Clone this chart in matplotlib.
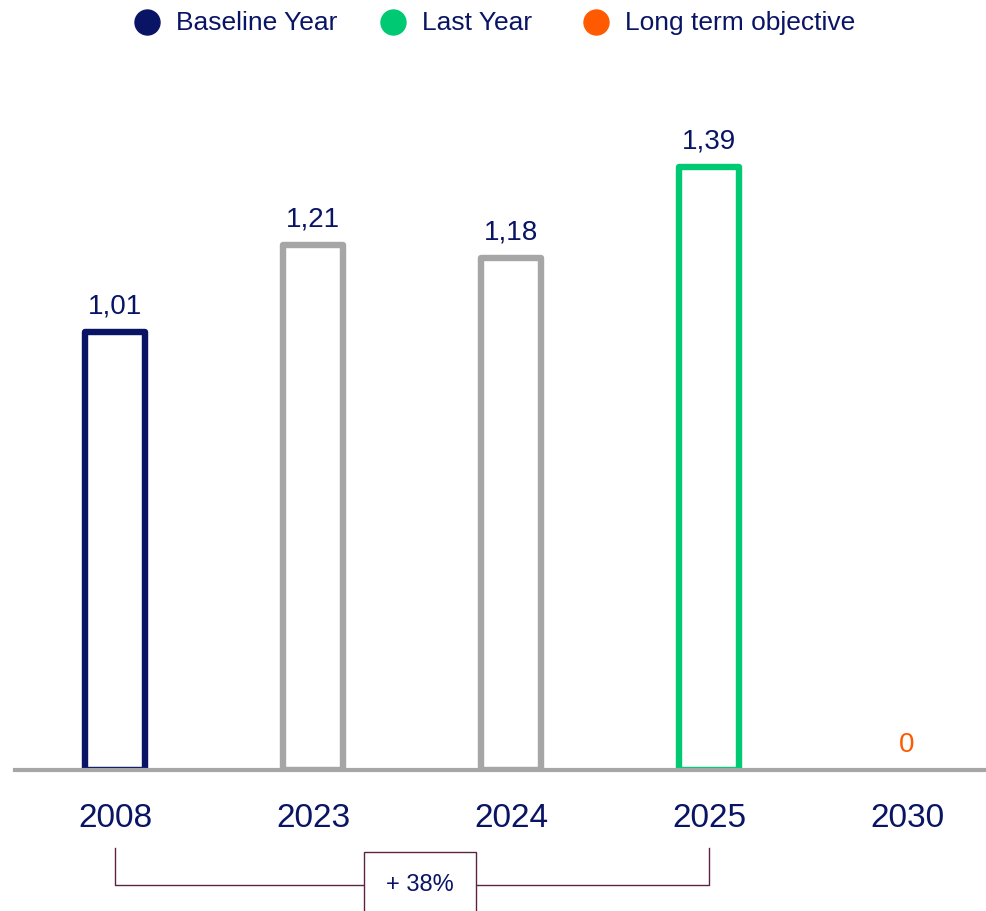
import matplotlib.pyplot as plt
from matplotlib.lines import Line2D

plt.rcParams['font.family'] = ['Liberation Sans', 'DejaVu Sans']

# data
years = ['2008', '2023', '2024', '2025', '2030']
values = [1.01, 1.21, 1.18, 1.39, 0]
value_labels = ['1,01', '1,21', '1,18', '1,39', '0']
legend_labels = ['Baseline Year', 'Last Year', 'Long term objective']

navy = '#0A1464'
grey = '#A6A6A6'
green = '#00C974'
orange = '#FF5A00'
purple = '#5B2445'

bar_colors = [navy, grey, grey, green, orange]
label_colors = [navy, navy, navy, navy, orange]

W, H = 987, 911
fig = plt.figure(figsize=(W / 100, H / 100), dpi=100)
ax = fig.add_axes([15 / W, 141 / H, 972 / W, 720 / H])

x = list(range(len(years)))
for i, v in enumerate(values):
    if v > 0:
        ax.bar(i, v, width=0.303, facecolor='white', edgecolor=bar_colors[i],
               linewidth=4.6, joinstyle='round', zorder=2)
    ax.annotate(value_labels[i], (i, v), xytext=(0, 13), textcoords='offset points',
                ha='center', va='baseline', fontsize=20, color=label_colors[i])

ax.axhline(0, color=grey, lw=3, zorder=3, clip_on=False)
ax.set_xlim(-0.505, 4.404)
ax.set_ylim(0, 720 / 434)
ax.set_xticks(x)
ax.set_xticklabels(years, fontsize=24, color=navy)
ax.tick_params(axis='x', length=0, pad=24)
ax.set_yticks([])
for s in ax.spines.values():
    s.set_visible(False)

# bracket 2008 -> 2025
y1 = -78 / 434
y2 = -115 / 434
ax.plot([0, 0, 3, 3], [y1, y2, y2, y1], color=purple, lw=1, clip_on=False)
pct = round((values[3] / values[0] - 1) * 100)
ax.text(1.54, y2, '+ %d%%' % pct, ha='center', va='center', fontsize=17, color=navy,
        bbox=dict(boxstyle='square,pad=0.95', fc='white', ec=purple, lw=1), clip_on=False)

# legend
leg_x = [147, 393, 596]
leg_colors = [navy, green, orange]
for lx, c, lab in zip(leg_x, leg_colors, legend_labels):
    fig.add_artist(Line2D([lx / W], [1 - 22 / H], marker='o', markersize=18,
                          color=c, linestyle='none', transform=fig.transFigure))
    fig.text((lx + 29) / W, 1 - 23 / H, lab, ha='left', va='center',
             fontsize=19, color=navy)

fig.savefig('out.png', dpi=100)
